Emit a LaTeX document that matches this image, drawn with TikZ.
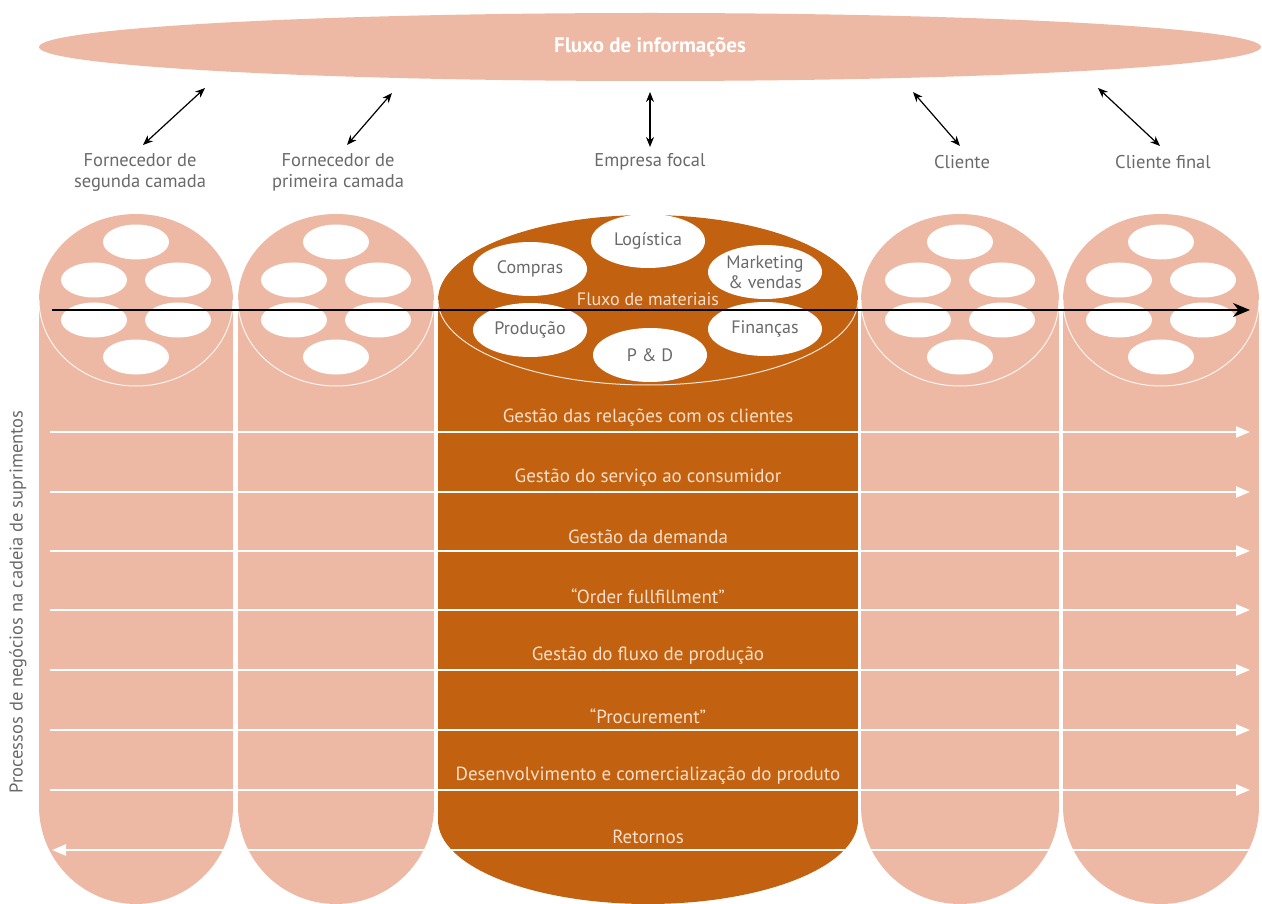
\documentclass[tikz,border=0pt]{standalone}
\usepackage{fontspec}
\setmainfont{PT Sans}
\usetikzlibrary{arrows.meta,shapes.geometric}
\definecolor{pinkc}{HTML}{EDB9A4}
\definecolor{orangec}{HTML}{C2610F}
\definecolor{cream}{HTML}{F8DFCB}
\definecolor{graytxt}{HTML}{6A6A6A}
\begin{document}
\begin{tikzpicture}[x=1pt,y=-1pt,
  toplabel/.style={text=graytxt,font=\fontsize{18.5}{21}\selectfont,align=center},
  func/.style={ellipse,fill=white,minimum width=114,minimum height=54,inner sep=0pt,text=graytxt,font=\fontsize{18}{20}\selectfont,align=center},
  hole/.style={fill=white},
  proc/.style={text=cream,font=\fontsize{19}{22}\selectfont},
  procline/.style={white,line width=2.2pt,-{Triangle[length=14pt,width=11pt]}},
  dbl/.style={black,line width=1.2pt,{Stealth[length=10pt,width=8pt]}-{Stealth[length=10pt,width=8pt]}},
  matarrow/.style={black,line width=1.8pt,-{Stealth[length=17pt,width=14pt]}}]
\useasboundingbox (0,0) rectangle (1262,904);
\fill[white] (0,0) rectangle (1262,904);
% information flow ellipse
\node[ellipse,fill=pinkc,minimum width=1222,minimum height=68,inner sep=0pt,text=white,font=\bfseries\fontsize{21}{24}\selectfont] (info) at (650,47) {Fluxo de informações};
% pink columns
\foreach \cx/\rx in {136/97,336/98,960/99,1161/98}{
  \fill[pinkc] (\cx,300) ellipse [x radius=\rx, y radius=86];
  \fill[pinkc] (\cx-\rx,300) rectangle (\cx+\rx,806);
  \fill[pinkc] (\cx,806) ellipse [x radius=\rx, y radius=98];
  \draw[white,line width=1pt,opacity=0.85] (\cx+\rx,300) arc[start angle=0,end angle=180,x radius=\rx,y radius=86];
  \foreach \dx/\dy in {0/-58,-42/-20,42/-20,-42/20,42/20,0/57}{
    \fill[hole] (\cx+\dx,300+\dy) ellipse [x radius=33, y radius=17.5];
  }
}
% focal company column
\fill[orangec] (648,300) ellipse [x radius=210, y radius=85];
\fill[orangec] (438,300) rectangle (858,820);
\fill[orangec] (648,820) ellipse [x radius=210, y radius=84];
\draw[white,line width=1pt,opacity=0.85] (858,300) arc[start angle=0,end angle=180,x radius=210,y radius=85];
% functions
\node[func] (log) at (648,241) {Logística};
\node[func] (comp) at (530,269) {Compras};
\node[func] (mkt) at (765,272) {Marketing\\\& vendas};
\node[func] (prod) at (530,330) {Produção};
\node[func] (fin) at (765,329) {Finanças};
\node[func] (pd) at (650,355) {P \& D};
\node[text=cream,font=\fontsize{18}{20}\selectfont] (mat) at (648,299) {Fluxo de materiais};
% material flow arrow
\coordinate (matS) at (52,310);
\coordinate (matE) at (1250,310);
\draw[matarrow] (matS) -- (matE);
% labels of the tiers
\node[toplabel] (t1) at (140,172) {Fornecedor de\\segunda camada};
\node[toplabel] (t2) at (338,172) {Fornecedor de\\primeira camada};
\node[toplabel] (t3) at (650,162) {Empresa focal};
\node[toplabel] (t4) at (962,162) {Cliente};
\node[toplabel] (t5) at (1163,162) {Cliente final};
\coordinate (a1s) at (205,88);  \coordinate (a1e) at (143,145);
\coordinate (a2s) at (392,93);  \coordinate (a2e) at (347,145);
\coordinate (a3s) at (650,92);  \coordinate (a3e) at (650,147);
\coordinate (a4s) at (913,92);  \coordinate (a4e) at (960,146);
\coordinate (a5s) at (1098,88); \coordinate (a5e) at (1160,146);
\foreach \i in {1,...,5}{\draw[dbl] (a\i s) -- (a\i e);}
% processes
\foreach \n/\y/\t in {p1/432/{Gestão das relações com os clientes},
                     p2/492/{Gestão do serviço ao consumidor},
                     p3/551/{Gestão da demanda},
                     p4/610/{“Order fullfillment”},
                     p5/670/{Gestão do fluxo de produção},
                     p6/730/{“Procurement”},
                     p7/790/{Desenvolvimento e comercialização do produto}}{
  \coordinate (\n s) at (50,\y);
  \coordinate (\n e) at (1250,\y);
  \draw[procline] (\n s) -- (\n e);
  \node[proc] (\n lab) at (648,\y-14) {\t};
}
\coordinate (p8s) at (1250,850);
\coordinate (p8e) at (52,850);
\draw[procline] (p8s) -- (p8e);
\node[proc] (p8lab) at (648,837) {Retornos};
% side label
\node[toplabel,rotate=90] (side) at (18,602) {Processos de negócios na cadeia de suprimentos};
\end{tikzpicture}
\end{document}
